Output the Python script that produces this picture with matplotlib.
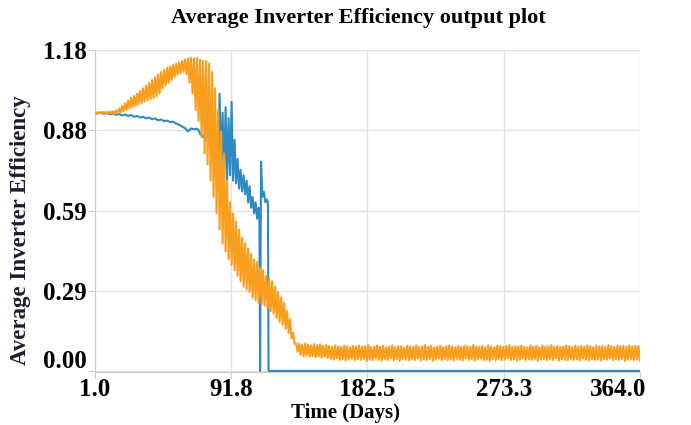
import matplotlib.pyplot as plt
import matplotlib.transforms as mtransforms
import numpy as np

# blue series (day, efficiency)
blue_days = [1, 3, 5, 7, 9, 11, 13, 15, 17, 19, 21, 23, 25, 27, 29, 31, 33, 35, 37, 39,
             41, 43, 45, 47, 49, 51, 53, 55, 57, 59, 61, 63, 65, 67, 69,
             70, 71, 72, 73, 74, 75, 76, 77, 78, 79, 80, 81, 82, 83, 84, 85, 86, 87, 88, 89,
             90, 91, 92, 93, 94, 95, 96, 97, 98, 99, 100, 101, 102, 103, 104, 105, 106, 107, 108, 109,
             110, 110.5, 111.0, 111.6, 112.5, 113.5, 114.5, 115.5, 116.2, 116.6, 364]
blue_vals = [0.950, 0.948, 0.951, 0.946, 0.949, 0.944, 0.947, 0.942, 0.945, 0.940,
             0.943, 0.938, 0.941, 0.935, 0.938, 0.932, 0.935, 0.929, 0.932, 0.926,
             0.929, 0.922, 0.925, 0.919, 0.921, 0.915, 0.917, 0.910, 0.906, 0.899,
             0.893, 0.881, 0.892, 0.889, 0.891,
             0.885, 0.872, 0.868, 0.860, 0.865, 0.850, 0.858, 0.835, 0.880, 0.800,
             0.900, 0.780, 0.870, 0.760, 1.020, 0.740, 0.950, 0.720, 0.970, 0.700,
             0.930, 0.720, 0.990, 0.700, 0.850, 0.690, 0.780, 0.670, 0.740, 0.660,
             0.720, 0.650, 0.700, 0.620, 0.680, 0.600, 0.640, 0.580, 0.620, 0.560,
             0.600, 0.580, 0.000, 0.770, 0.640, 0.660, 0.620, 0.630, 0.620, 0.000, 0.000]

# orange series: peaks on odd days 1..363, troughs on even days 2..364
orange_hi = [0.950, 0.952, 0.951, 0.953, 0.952, 0.954, 0.955, 0.958, 0.965, 0.975,
             0.985, 0.995, 1.005, 1.012, 1.020, 1.030, 1.040, 1.050, 1.060, 1.070,
             1.080, 1.090, 1.100, 1.108, 1.115, 1.120, 1.125, 1.130, 1.135, 1.140,
             1.145, 1.150, 1.152, 1.150, 1.152, 1.145, 1.140, 1.140, 1.130, 1.100,
             1.040, 0.960, 0.880, 0.800, 0.700, 0.620, 0.580, 0.550, 0.520, 0.490,
             0.470, 0.450, 0.430, 0.410, 0.400, 0.380, 0.370, 0.350, 0.340, 0.330,
             0.310, 0.290, 0.270, 0.250, 0.220, 0.190, 0.140, 0.100,
             0.100, 0.096, 0.101, 0.097, 0.094, 0.099, 0.095, 0.098, 0.093, 0.096,
             0.091, 0.089, 0.094, 0.090, 0.088, 0.093, 0.091, 0.087, 0.092, 0.090,
             0.093, 0.089, 0.091, 0.095, 0.088, 0.090, 0.094, 0.089, 0.092, 0.087,
             0.090, 0.094, 0.088, 0.092, 0.091, 0.086, 0.093, 0.090, 0.089, 0.094,
             0.088, 0.091, 0.095, 0.089, 0.092, 0.087, 0.090, 0.093, 0.088, 0.091,
             0.094, 0.090, 0.087, 0.092, 0.089, 0.093, 0.091, 0.088, 0.095, 0.090,
             0.089, 0.092, 0.088, 0.094, 0.090, 0.087, 0.093, 0.091, 0.089, 0.092,
             0.095, 0.088, 0.091, 0.090, 0.093, 0.089, 0.087, 0.094, 0.090, 0.092,
             0.088, 0.093, 0.090, 0.091, 0.095, 0.089, 0.092, 0.088, 0.090, 0.094,
             0.091, 0.087, 0.093, 0.090, 0.092, 0.089, 0.094, 0.091, 0.088, 0.093,
             0.090, 0.092, 0.089, 0.095, 0.091, 0.088, 0.093, 0.090, 0.092, 0.089,
             0.094, 0.090, 0.092, 0.091]
orange_lo = [0.946, 0.948, 0.947, 0.948, 0.947, 0.948, 0.947, 0.948, 0.950, 0.955,
             0.960, 0.965, 0.970, 0.975, 0.980, 0.985, 0.990, 0.995, 1.000, 1.005,
             1.010, 1.020, 1.040, 1.050, 1.060, 1.070, 1.080, 1.090, 1.095, 1.100,
             1.090, 1.060, 1.020, 0.960, 0.920, 0.860, 0.800, 0.760, 0.700, 0.640,
             0.580, 0.520, 0.470, 0.440, 0.410, 0.390, 0.370, 0.350, 0.330, 0.310,
             0.300, 0.290, 0.270, 0.260, 0.250, 0.245, 0.240, 0.230, 0.220, 0.210,
             0.195, 0.180, 0.170, 0.155, 0.140, 0.120, 0.100, 0.070,
             0.058, 0.054, 0.056, 0.052, 0.055, 0.050, 0.053, 0.049, 0.052, 0.048,
             0.044, 0.041, 0.046, 0.040, 0.043, 0.038, 0.042, 0.045, 0.039, 0.043,
             0.040, 0.044, 0.037, 0.042, 0.039, 0.045, 0.041, 0.038, 0.043, 0.040,
             0.046, 0.039, 0.042, 0.037, 0.044, 0.041, 0.039, 0.043, 0.040, 0.045,
             0.038, 0.042, 0.040, 0.044, 0.037, 0.041, 0.045, 0.039, 0.043, 0.040,
             0.042, 0.038, 0.044, 0.041, 0.039, 0.046, 0.040, 0.043, 0.038, 0.042,
             0.045, 0.039, 0.041, 0.037, 0.043, 0.040, 0.044, 0.039, 0.042, 0.046,
             0.040, 0.043, 0.038, 0.041, 0.045, 0.039, 0.042, 0.040, 0.044, 0.037,
             0.041, 0.044, 0.039, 0.043, 0.040, 0.046, 0.038, 0.042, 0.041, 0.039,
             0.044, 0.040, 0.042, 0.038, 0.045, 0.041, 0.039, 0.043, 0.040, 0.042,
             0.038, 0.043, 0.041, 0.045, 0.039, 0.042, 0.040, 0.044, 0.037, 0.041,
             0.043, 0.040, 0.042, 0.039]

x_ticks = [1.0, 91.75, 182.5, 273.25, 364.0]
x_labels = ['1.0', '91.8', '182.5', '273.3', '364.0']
y_ticks = [0.0, 0.295, 0.59, 0.885, 1.18]
y_labels = ['0.00', '0.29', '0.59', '0.88', '1.18']

orange_days = np.arange(1, 365)
orange_vals = np.empty(364)
orange_vals[0::2] = orange_hi
orange_vals[1::2] = orange_lo

plt.rcParams['font.family'] = 'Liberation Serif'
plt.rcParams['font.weight'] = 'bold'

fig = plt.figure(figsize=(6.91, 4.25), dpi=100)
ax = fig.add_axes([0.1375, 0.1247, 0.7885, 0.7573])

ax.plot(blue_days, blue_vals, color='#2f8ac4', lw=1.5, zorder=3)
ax.plot(orange_days, orange_vals, color='#f99d1c', lw=1.5, zorder=4)

ax.set_xlim(1, 364)
ax.set_ylim(-0.004, 1.18)
ax.set_xticks(x_ticks)
ax.set_xticklabels(x_labels, fontsize=18, fontweight='bold')
ax.set_yticks(y_ticks)
ax.set_yticklabels(y_labels, fontsize=18, fontweight='bold')
ax.tick_params(length=4, color='#cccccc', pad=2)
ax.tick_params(axis='x', pad=0)
ax.grid(True, color='#e3e3e3', lw=1)
ax.set_axisbelow(True)
for s in ['top', 'right']:
    ax.spines[s].set_visible(False)
for s in ['left', 'bottom']:
    ax.spines[s].set_color('#cccccc')

# last x label kept inside, first y label lifted (as in the original)
last = ax.get_xticklabels()[-1]
last.set_horizontalalignment('right')
last.set_transform(last.get_transform() + mtransforms.ScaledTranslation(6 / 100, 0, fig.dpi_scale_trans))
first = ax.get_yticklabels()[0]
first.set_verticalalignment('bottom')
first.set_transform(first.get_transform() + mtransforms.ScaledTranslation(0, -2 / 100, fig.dpi_scale_trans))

ax.set_xlabel('Time (Days)', fontsize=15, fontweight='bold')
ax.xaxis.set_label_coords(0.46, -0.097)
ax.set_ylabel('Average Inverter Efficiency', fontsize=16.5, fontweight='bold',
              color='#1c1c33')
ax.yaxis.set_label_coords(-0.117, 0.44)
fig.text(0.518, 0.957, 'Average Inverter Efficiency output plot', ha='center', va='center',
         fontsize=16, fontweight='bold')

plt.savefig('out.png', dpi=100)
